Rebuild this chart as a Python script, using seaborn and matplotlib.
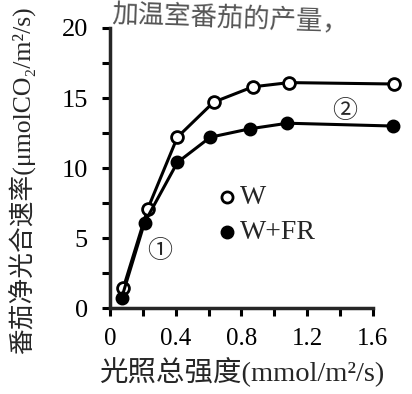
import matplotlib
matplotlib.use("Agg")
import matplotlib.pyplot as plt
import seaborn as sns
import pandas as pd
from matplotlib.ticker import MultipleLocator

light = [0.08, 0.23, 0.41, 0.63, 0.87, 1.09, 1.73]
w_vals = [1.4, 7.1, 12.2, 14.7, 15.8, 16.1, 16.0]
light_fr = [0.07, 0.21, 0.41, 0.61, 0.85, 1.08, 1.72]
wfr_vals = [0.7, 6.1, 10.4, 12.2, 12.8, 13.2, 13.0]
x_ticks = [0, 0.4, 0.8, 1.2, 1.6]
x_tick_labels = ["0", "0.4", "0.8", "1.2", "1.6"]
y_ticks = [0, 5, 10, 15, 20]
series_names = ["W", "W+FR"]

sns.set_style("ticks")
plt.rcParams['font.family'] = ['Liberation Serif', 'Noto Sans CJK SC', 'DejaVu Sans']

df = pd.DataFrame({
    "x": light + light_fr,
    "y": w_vals + wfr_vals,
    "s": [series_names[0]] * len(light) + [series_names[1]] * len(light_fr),
})

fig = plt.figure(figsize=(4.12, 3.94), dpi=100)
ax = fig.add_axes([0.267, 0.218, 0.71, 0.711])

sns.lineplot(data=df[df.s == "W"], x="x", y="y", ax=ax, color="black", lw=2.2,
             marker="o", markersize=8.5, markerfacecolor="white",
             markeredgecolor="black", markeredgewidth=2, legend=False)
sns.lineplot(data=df[df.s == "W+FR"], x="x", y="y", ax=ax, color="black", lw=2.2,
             marker="o", markersize=8.5, markerfacecolor="black",
             markeredgecolor="black", markeredgewidth=1.5, legend=False)

ax.set_xlim(0, 1.78)
ax.set_ylim(0, 20)
ax.spines['top'].set_visible(False)
ax.spines['right'].set_visible(False)
ax.spines['left'].set_linewidth(2.5)
ax.spines['bottom'].set_linewidth(2.5)
ax.spines['bottom'].set_bounds(0, 1.6)
ax.set_xticks(x_ticks)
ax.set_xticklabels(x_tick_labels)
ax.set_yticks(y_ticks)
ax.xaxis.set_minor_locator(MultipleLocator(0.2))
ax.yaxis.set_minor_locator(MultipleLocator(2.5))
ax.tick_params(axis='both', which='both', direction='out', width=2.2, length=6,
               labelsize=19, colors='black')
ax.tick_params(axis='x', which='major', labelsize=18, pad=8)
ax.tick_params(axis='y', which='major', pad=10)
ax.set_xlabel("光照总强度(mmol/m²/s)", fontsize=20.5)
ax.xaxis.set_label_coords(0.45, -0.175)
ax.set_ylabel("番茄净光合速率(μmolCO₂/m²/s)", fontsize=18.5)
ax.yaxis.set_label_coords(-0.255, 0.455)

# legend drawn as text/markers
ax.plot([0.71], [7.9], marker="o", markersize=8, markerfacecolor="white",
        markeredgecolor="black", markeredgewidth=2, ls="none")
ax.text(0.79, 7.9, series_names[0], fontsize=20, va="center")
ax.plot([0.71], [5.4], marker="o", markersize=9, color="black", ls="none")
ax.text(0.79, 5.4, series_names[1], fontsize=20, va="center")

ax.text(0.30, 4.1, "①", fontsize=18, ha="center", va="center",
        family=['Noto Sans CJK SC', 'DejaVu Sans'])
ax.text(1.43, 14.1, "②", fontsize=18, ha="center", va="center",
        family=['Noto Sans CJK SC', 'DejaVu Sans'])

fig.text(0.27, 0.997, "加温室番茄的产量，", fontsize=19, color="#555555",
         ha="left", va="top", rotation=-2,
         family=['Noto Sans CJK SC', 'DejaVu Sans'])

fig.savefig("out.png", dpi=100)
